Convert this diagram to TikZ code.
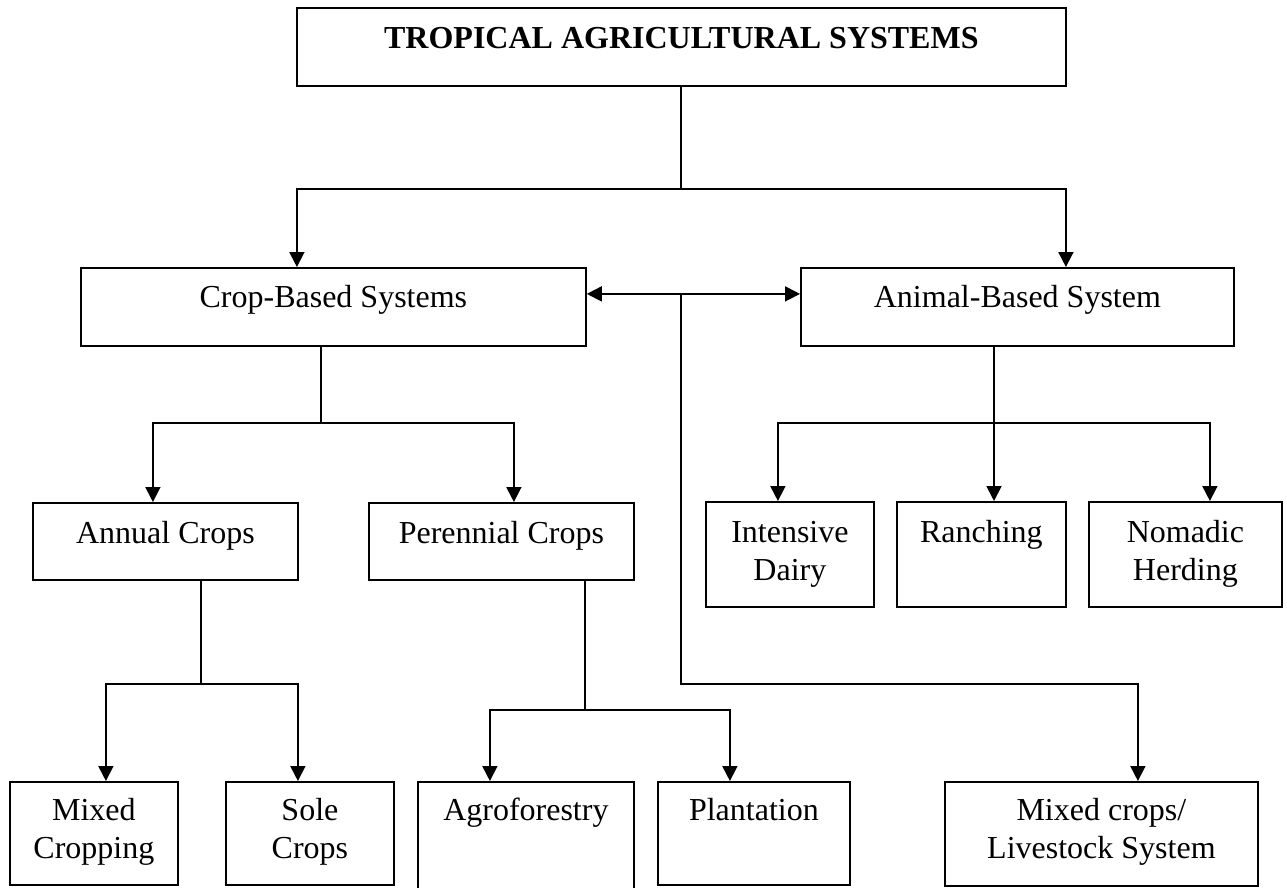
\documentclass[tikz,border=0pt]{standalone}
\usepackage{fontspec}
\setmainfont{Liberation Serif}
\usetikzlibrary{arrows.meta}
% centred (possibly multi-line) label whose baseline is its first line
\newcommand\boxtext[1]{\begin{tabular}[t]{@{}c@{}}#1\end{tabular}}

\begin{document}
\begin{tikzpicture}[x=1pt,y=-1pt,
  box/.style={draw, line width=1.8pt, inner sep=0pt, anchor=north west,
              font=\fontsize{32}{37.5}\selectfont},
  link/.style={line width=1.8pt},
  arr/.style={link, -{Triangle[length=15pt,width=15pt]}},
  darr/.style={link, {Triangle[length=15pt,width=15pt]}-{Triangle[length=15pt,width=15pt]}}]
\clip (0,0) rectangle (1287,888);

% ---- boxes ----
\node[box, minimum width=769pt, text height=41pt, text depth=37pt] (title) at (296,7)
  {\boxtext{\textbf{TROPICAL AGRICULTURAL SYSTEMS}}};

\node[box, minimum width=505pt, text height=40pt, text depth=38pt] (crop) at (80,267)
  {\boxtext{Crop-Based Systems}};
\node[box, minimum width=433pt, text height=40pt, text depth=38pt] (animal) at (800,267)
  {\boxtext{Animal-Based System}};

\node[box, minimum width=265pt, text height=41pt, text depth=36pt] (annual) at (32,502)
  {\boxtext{Annual Crops}};
\node[box, minimum width=265pt, text height=41pt, text depth=36pt] (perennial) at (368,502)
  {\boxtext{Perennial Crops}};

\node[box, minimum width=168pt, text height=41pt, text depth=64pt] (dairy) at (705,501)
  {\boxtext{Intensive\\Dairy}};
\node[box, minimum width=169pt, text height=41pt, text depth=64pt] (ranch) at (896,501)
  {\boxtext{Ranching}};
\node[box, minimum width=193pt, text height=41pt, text depth=64pt] (nomad) at (1088,501)
  {\boxtext{Nomadic\\Herding}};

\node[box, minimum width=168pt, text height=39pt, text depth=64pt] (mixc) at (9,781)
  {\boxtext{Mixed\\Cropping}};
\node[box, minimum width=168pt, text height=39pt, text depth=64pt] (sole) at (225,781)
  {\boxtext{Sole\\Crops}};
\node[box, minimum width=216pt, text height=39pt, text depth=120pt] (agro) at (417,781)
  {\boxtext{Agroforestry}};
\node[box, minimum width=192pt, text height=39pt, text depth=64pt] (plant) at (657,781)
  {\boxtext{Plantation}};
\node[box, minimum width=313pt, text height=39pt, text depth=65pt] (mixls) at (944,781)
  {\boxtext{Mixed crops/\\Livestock System}};

% ---- junction points ----
\coordinate (t1) at (681,189);
\coordinate (c1) at (681,293);
\coordinate (c2) at (681,684);
\coordinate (k1) at (321,423);
\coordinate (a1) at (994,423);
\coordinate (b1) at (201,684);
\coordinate (p1) at (585,710);

% ---- connectors ----
\draw[link] (title.south -| t1) -- (t1);
\draw[arr] (t1) -| ([xshift=-36.5pt]crop.north);
\draw[arr] (t1) -| ([xshift=48.5pt]animal.north);

\draw[darr] ([yshift=13pt]crop.east) -- ([yshift=13pt]animal.west);
\draw[arr] (c1) -- (c2) -| ([xshift=36.5pt]mixls.north);

\draw[link] (crop.south -| k1) -- (k1);
\draw[arr] (k1) -| ([xshift=-12.5pt]annual.north);
\draw[arr] (k1) -| ([xshift=12.5pt]perennial.north);

\draw[link] (animal.south -| a1) -- (a1);
\draw[arr] (a1) -| ([xshift=-12pt]dairy.north);
\draw[arr] (a1) -- (a1 |- ranch.north);
\draw[arr] (a1) -| ([xshift=24.5pt]nomad.north);

\draw[link] (annual.south -| b1) -- (b1);
\draw[arr] (b1) -| ([xshift=12pt]mixc.north);
\draw[arr] (b1) -| ([xshift=-12pt]sole.north);

\draw[link] (perennial.south -| p1) -- (p1);
\draw[arr] (p1) -| ([xshift=-36pt]agro.north);
\draw[arr] (p1) -| ([xshift=-24pt]plant.north);
\end{tikzpicture}
\end{document}
